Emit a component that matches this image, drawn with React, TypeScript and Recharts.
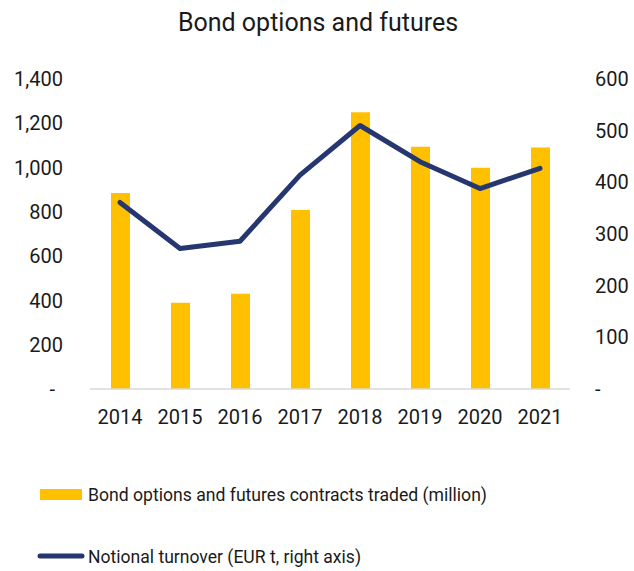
import { Bar, ComposedChart, Line, XAxis, YAxis } from "recharts";

const years = ["2014", "2015", "2016", "2017", "2018", "2019", "2020", "2021"];
const contracts = [885, 390, 430, 808, 1250, 1094, 999, 1091];
const turnover = [361, 272, 286, 414, 510, 440, 388, 427];
const leftTicks = [0, 200, 400, 600, 800, 1000, 1200, 1400];
const rightTicks = [0, 100, 200, 300, 400, 500, 600];

const BAR_COLOR = "#FFC000";
const LINE_COLOR = "#263770";
const FONT = "Roboto, sans-serif";
const TEXT = "#1a1a1a";

const data = years.map((year, i) => ({
  year,
  contracts: contracts[i],
  turnover: turnover[i],
}));

const fmt = (v: number) => (v === 0 ? "-" : v.toLocaleString("en-US"));

const LeftTick = ({ x, y, payload }: any) => (
  <text
    x={payload.value === 0 ? x - 27 : x - 19}
    y={y}
    dy="0.355em"
    textAnchor="end"
    fontSize={20}
    fontFamily={FONT}
    fill={TEXT}
  >
    {fmt(payload.value)}
  </text>
);

const RightTick = ({ x, y, payload }: any) => (
  <text
    x={x + 17}
    y={y}
    dy="0.355em"
    textAnchor="start"
    fontSize={20}
    fontFamily={FONT}
    fill={TEXT}
  >
    {fmt(payload.value)}
  </text>
);

const App = () => (
  <div style={{ position: "absolute", left: 0, top: 0, width: 634, height: 571, background: "#fff" }}>
    <svg width={634} height={40} style={{ position: "absolute", left: 0, top: 0 }}>
      <text x={318} y={31} textAnchor="middle" fontSize={25} fontFamily={FONT} fill={TEXT}>
        Bond options and futures
      </text>
    </svg>
    <ComposedChart
      width={634}
      height={571}
      data={data}
      margin={{ top: 79, right: 0, bottom: 152, left: 0 }}
    >
      <XAxis
        dataKey="year"
        height={30}
        axisLine={{ stroke: "#D9D9D9", strokeWidth: 1.5 }}
        tickLine={false}
        tickMargin={15}
        tick={{ fontSize: 20, fontFamily: FONT, fill: TEXT }}
        interval={0}
      />
      <YAxis
        yAxisId="left"
        width={90}
        domain={[0, 1400]}
        ticks={leftTicks}
        axisLine={false}
        tickLine={false}
        tick={<LeftTick />}
        interval={0}
      />
      <YAxis
        yAxisId="right"
        orientation="right"
        width={64}
        domain={[0, 600]}
        ticks={rightTicks}
        axisLine={false}
        tickLine={false}
        tick={<RightTick />}
        interval={0}
      />
      <Bar
        yAxisId="left"
        dataKey="contracts"
        fill={BAR_COLOR}
        barSize={19}
        isAnimationActive={false}
      />
      <Line
        yAxisId="right"
        dataKey="turnover"
        stroke={LINE_COLOR}
        strokeWidth={5}
        strokeLinejoin="round"
        strokeLinecap="round"
        dot={false}
        activeDot={false}
        isAnimationActive={false}
      />
    </ComposedChart>
    <svg width={634} height={100} style={{ position: "absolute", left: 0, top: 471 }}>
      <rect x={40} y={18} width={42} height={11} fill={BAR_COLOR} />
      <text x={88} y={23.5} dy="0.355em" fontSize={19} fontFamily={FONT} fill={TEXT} textLength={399} lengthAdjust="spacingAndGlyphs">
        Bond options and futures contracts traded (million)
      </text>
      <line x1={40} y1={85} x2={82} y2={85} stroke={LINE_COLOR} strokeWidth={5} strokeLinecap="round" />
      <text x={88} y={85} dy="0.355em" fontSize={19} fontFamily={FONT} fill={TEXT} textLength={273} lengthAdjust="spacingAndGlyphs">
        Notional turnover (EUR t, right axis)
      </text>
    </svg>
  </div>
);

export default App;
